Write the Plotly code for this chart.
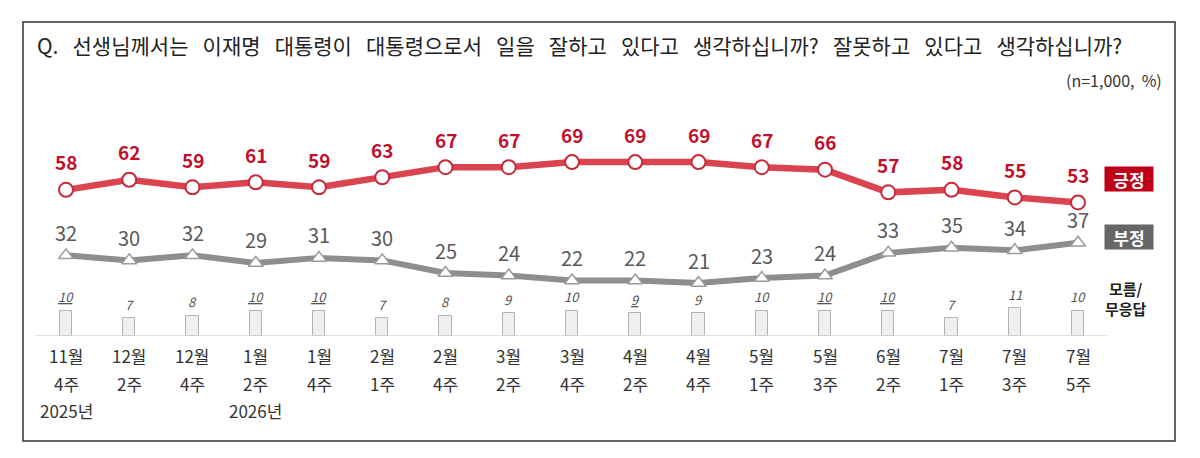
import plotly.graph_objects as go

# ---- data ----
months = ["11월", "12월", "12월", "1월", "1월", "2월", "2월", "3월", "3월", "4월", "4월", "5월", "5월", "6월", "7월", "7월", "7월"]
weeks = ["4주", "2주", "4주", "2주", "4주", "1주", "4주", "2주", "4주", "2주", "4주", "1주", "3주", "2주", "1주", "3주", "5주"]
years = ["2025년", "", "", "2026년", "", "", "", "", "", "", "", "", "", "", "", "", ""]
positive = [58, 62, 59, 61, 59, 63, 67, 67, 69, 69, 69, 67, 66, 57, 58, 55, 53]
negative = [32, 30, 32, 29, 31, 30, 25, 24, 22, 22, 21, 23, 24, 33, 35, 34, 37]
dont_know = [10, 7, 8, 10, 10, 7, 8, 9, 10, 9, 9, 10, 10, 10, 7, 11, 10]
dk_underlined = [1, 0, 0, 1, 1, 0, 0, 0, 0, 1, 0, 0, 1, 1, 0, 0, 0]
title_text = "Q. 선생님께서는 이재명 대통령이 대통령으로서 일을 잘하고 있다고 생각하십니까? 잘못하고 있다고 생각하십니까?"
note_text = "(n=1,000, %)"

FONT = "Noto Sans CJK KR"
W, H = 1200, 458
PL, PR, PT, PB = 35, 1108, 130, 336
x = list(range(len(months)))


def pxx(px):
    return (px - PL) / (PR - PL)


def pxy(py):
    return (PB - py) / (PB - PT)


RED_LINE = "#d9444f"
RED_TEXT = "#c0102c"
GRAY_LINE = "#8e8e8e"
GRAY_TEXT = "#595959"

fig = go.Figure()

fig.add_trace(go.Bar(
    x=x, y=dont_know, width=0.19,
    marker=dict(color="#efefef", line=dict(color="#b3b3b3", width=1)),
    hoverinfo="skip", showlegend=False,
))
fig.add_trace(go.Scatter(
    x=x, y=negative, mode="lines+markers",
    line=dict(color=GRAY_LINE, width=6),
    marker=dict(symbol="triangle-up", size=13, color="white",
                line=dict(color="#9a9a9a", width=1.5)),
    showlegend=False, cliponaxis=False,
))
fig.add_trace(go.Scatter(
    x=x, y=positive, mode="lines+markers",
    line=dict(color=RED_LINE, width=6.5),
    marker=dict(symbol="circle", size=14, color="white",
                line=dict(color="#c8283a", width=2)),
    showlegend=False, cliponaxis=False,
))

ann = []
for i in x:
    ann.append(dict(x=i, y=positive[i], xref="x", yref="y", text=f"<b>{positive[i]}</b>",
                    showarrow=False, yshift=28, font=dict(family=FONT, size=19, color=RED_TEXT)))
    ann.append(dict(x=i, y=negative[i], xref="x", yref="y", text=str(negative[i]),
                    showarrow=False, yshift=23, font=dict(family=FONT, size=20, color=GRAY_TEXT)))
    t = f"<i>{dont_know[i]}</i>"
    if dk_underlined[i]:
        t = f"<u>{t}</u>"
    ann.append(dict(x=i, y=dont_know[i], xref="x", yref="y", text=t,
                    showarrow=False, yshift=14, font=dict(family=FONT, size=13, color="#555555")))
    ann.append(dict(x=i, y=pxy(355), xref="x", yref="paper", text=months[i], showarrow=False,
                    xanchor="center", yanchor="middle", font=dict(family=FONT, size=17, color="#333333")))
    ann.append(dict(x=i, y=pxy(383), xref="x", yref="paper", text=weeks[i], showarrow=False,
                    xanchor="center", yanchor="middle", font=dict(family=FONT, size=17, color="#333333")))
    if years[i]:
        ann.append(dict(x=i, y=pxy(410), xref="x", yref="paper", text=years[i], showarrow=False,
                        xanchor="center", yanchor="middle", font=dict(family=FONT, size=17, color="#333333")))

# title and note (word gaps widened to match the reference spacing)
wide_title = title_text.replace(" ", "\u00a0\u00a0 ")
ann.append(dict(x=pxx(35), y=pxy(45), xref="paper", yref="paper", text=wide_title, showarrow=False,
                xanchor="left", yanchor="middle", font=dict(family=FONT, size=21, color="#222222")))
ann.append(dict(x=pxx(1164), y=pxy(80), xref="paper", yref="paper", text=note_text.replace(" ", "\u00a0 "),
                showarrow=False, xanchor="right", yanchor="middle",
                font=dict(family=FONT, size=16, color="#333333")))

# legend boxes
ann.append(dict(x=pxx(1129), y=pxy(178.5), xref="paper", yref="paper", text="<b>긍정</b>", showarrow=False,
                xanchor="center", yanchor="middle",
                bgcolor="#c00018", borderpad=1, width=46, height=22,
                font=dict(family=FONT, size=17, color="white")))
ann.append(dict(x=pxx(1129), y=pxy(237), xref="paper", yref="paper", text="<b>부정</b>", showarrow=False,
                xanchor="center", yanchor="middle",
                bgcolor="#666666", borderpad=1, width=46, height=22,
                font=dict(family=FONT, size=17, color="white")))
ann.append(dict(x=pxx(1126), y=pxy(298), xref="paper", yref="paper", text="<b>모름/<br>무응답</b>",
                showarrow=False, xanchor="center", yanchor="middle",
                font=dict(family=FONT, size=15, color="#222222")))

shapes = [
    dict(type="line", xref="paper", yref="y", x0=0, x1=1, y0=0, y1=0,
         line=dict(color="#d9d9d9", width=1.5)),
    dict(type="rect", xref="paper", yref="paper", x0=pxx(23), x1=pxx(1175), y0=pxy(22), y1=pxy(441),
         line=dict(color="#333333", width=1.5), fillcolor="rgba(0,0,0,0)"),
]

fig.update_layout(
    width=W, height=H,
    margin=dict(l=PL, r=W - PR, t=PT, b=H - PB),
    paper_bgcolor="white", plot_bgcolor="white",
    xaxis=dict(range=[(PL - 66) / 63.25, (PR - 66) / 63.25], visible=False, fixedrange=True),
    yaxis=dict(range=[0, (PB - PT) / 2.52], visible=False, fixedrange=True),
    annotations=ann, shapes=shapes, bargap=0,
    font=dict(family=FONT),
)

fig.write_html("out.html")
